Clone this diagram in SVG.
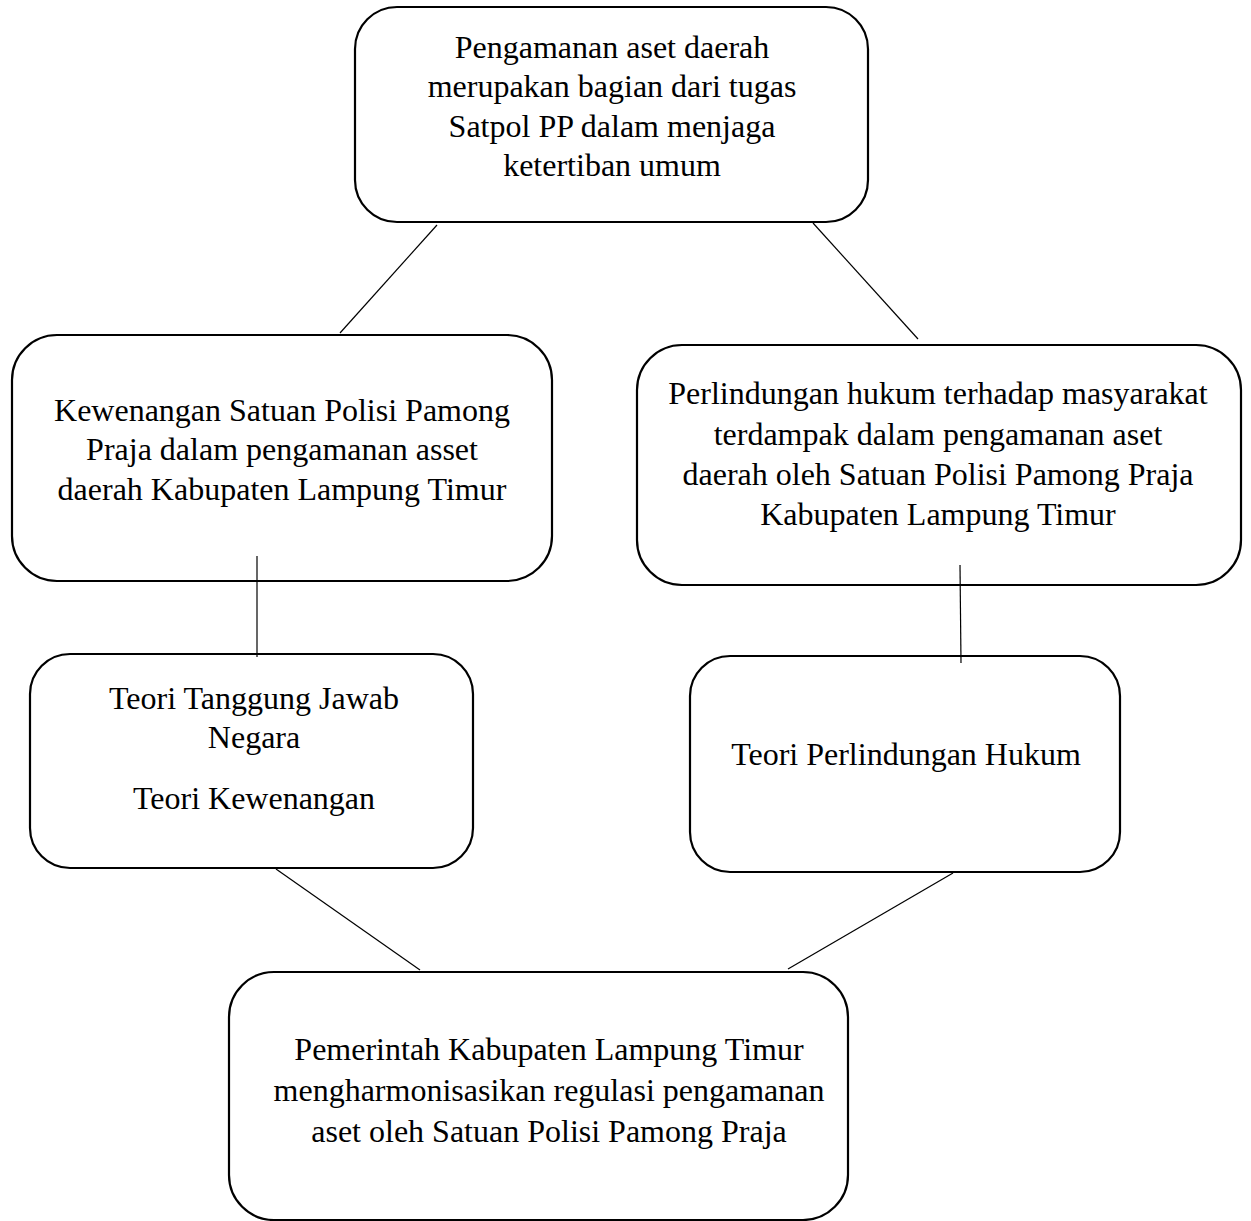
<svg xmlns="http://www.w3.org/2000/svg" width="1251" height="1221" viewBox="0 0 1251 1221">
<style>
.box{fill:#fff;stroke:#000;stroke-width:2.2}
.t{font-size:32px;fill:#000;text-anchor:middle}
.c{stroke:#000;stroke-width:1.2;fill:none}
</style>
<rect width="1251" height="1221" fill="#fff"/>
<g id="connectors">
<line class="c" x1="437" y1="225" x2="340" y2="333"/>
<line class="c" x1="813" y1="223" x2="918" y2="339"/>
<line class="c" x1="276" y1="869" x2="420" y2="970"/>
<line class="c" x1="953" y1="873" x2="788" y2="969"/>
</g>
<g font-family="'Liberation Serif', 'Times New Roman', Times, serif">
<g id="n1">
<rect class="box" x="355" y="7" width="513" height="215" rx="42"/>
<text class="t" x="612" y="58">Pengamanan aset daerah</text>
<text class="t" x="612" y="97">merupakan bagian dari tugas</text>
<text class="t" x="612" y="137">Satpol PP dalam menjaga</text>
<text class="t" x="612" y="176">ketertiban umum</text>
</g>
<g id="n2">
<rect class="box" x="12" y="335" width="540" height="246" rx="45"/>
<text class="t" x="282" y="421">Kewenangan Satuan Polisi Pamong</text>
<text class="t" x="282" y="460">Praja dalam pengamanan asset</text>
<text class="t" x="282" y="500">daerah Kabupaten Lampung Timur</text>
</g>
<g id="n3">
<rect class="box" x="637" y="345" width="604" height="240" rx="45"/>
<text class="t" x="938" y="404">Perlindungan hukum terhadap masyarakat</text>
<text class="t" x="938" y="445">terdampak dalam pengamanan aset</text>
<text class="t" x="938" y="485">daerah oleh Satuan Polisi Pamong Praja</text>
<text class="t" x="938" y="525">Kabupaten Lampung Timur</text>
</g>
<g id="n4">
<rect class="box" x="30" y="654" width="443" height="214" rx="40"/>
<text class="t" x="254" y="709">Teori Tanggung Jawab</text>
<text class="t" x="254" y="748">Negara</text>
<text class="t" x="254" y="809">Teori Kewenangan</text>
</g>
<g id="n5">
<rect class="box" x="690" y="656" width="430" height="216" rx="40"/>
<text class="t" x="906" y="765">Teori Perlindungan Hukum</text>
</g>
<g id="n6">
<rect class="box" x="229" y="972" width="619" height="248" rx="45"/>
<text class="t" x="549" y="1060">Pemerintah Kabupaten Lampung Timur</text>
<text class="t" x="549" y="1101">mengharmonisasikan regulasi pengamanan</text>
<text class="t" x="549" y="1142">aset oleh Satuan Polisi Pamong Praja</text>
</g>
</g>
<g id="connectors-inner">
<line class="c" x1="257" y1="556" x2="257" y2="657"/>
<line class="c" x1="960" y1="565" x2="961" y2="663"/>
</g>
</svg>
